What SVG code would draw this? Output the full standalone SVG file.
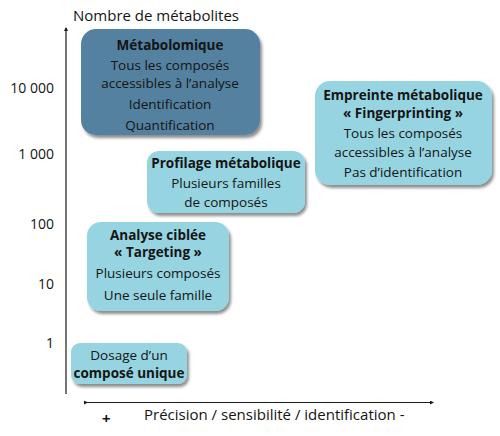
<svg xmlns="http://www.w3.org/2000/svg" width="500" height="436" viewBox="0 0 500 436">
<style>
text{font-family:"Open Sans","Noto Sans","Liberation Sans",sans-serif;fill:#141414;font-size:13.5px}
.c{text-anchor:middle}
.b{font-weight:700}
.r{text-anchor:end;font-size:14px}
.dark{fill:#52819f}
.light{fill:#95d4e0}
.ax{stroke:#1a1a1a;stroke-width:1.2;fill:none}
</style>
<defs>
<filter id="sh" x="-10%" y="-10%" width="130%" height="130%">
<feGaussianBlur in="SourceAlpha" stdDeviation="1.5"/>
<feOffset dx="2" dy="2.5" result="o"/>
<feComponentTransfer><feFuncA type="linear" slope="0.45"/></feComponentTransfer>
<feMerge><feMergeNode/><feMergeNode in="SourceGraphic"/></feMerge>
</filter>
<marker id="ah" markerWidth="4" markerHeight="4" refX="3" refY="2" orient="auto" markerUnits="userSpaceOnUse">
<path d="M0,0 L4,2 L0,4 z" fill="#1a1a1a"/>
</marker>
</defs>
<g id="axes">
<line class="ax" x1="66" y1="394" x2="66" y2="28" marker-end="url(#ah)"/>
<line class="ax" x1="87" y1="402.5" x2="433" y2="402.5" marker-start="url(#ah)" marker-end="url(#ah)"/>
<text x="73" y="21" style="font-size:15px">Nombre de métabolites</text>
<text class="r" x="54" y="93">10 000</text>
<text class="r" x="54" y="159">1 000</text>
<text class="r" x="54" y="229">100</text>
<text class="r" x="54" y="289">10</text>
<text class="r" x="54" y="348">1</text>
<text x="102" y="424" style="font-size:15px;font-weight:700">+</text>
<text x="144" y="420" style="font-size:15px">Précision / sensibilité / identification -</text>
</g>
<g id="metabolomique">
<rect class="dark" x="81" y="29" width="179" height="106" rx="15" filter="url(#sh)"/>
<text class="c b" x="170" y="50">Métabolomique</text>
<text class="c" x="170" y="70">Tous les composés</text>
<text class="c" x="170" y="88">accessibles à l’analyse</text>
<text class="c" x="170" y="109">Identification</text>
<text class="c" x="170" y="130">Quantification</text>
</g>
<g id="empreinte">
<rect class="light" x="315" y="81" width="177" height="104" rx="15" filter="url(#sh)"/>
<text class="c b" x="403" y="100">Empreinte métabolique</text>
<text class="c b" x="403" y="118">« Fingerprinting »</text>
<text class="c" x="403" y="138">Tous les composés</text>
<text class="c" x="403" y="157">accessibles à l’analyse</text>
<text class="c" x="403" y="177">Pas d’identification</text>
</g>
<g id="profilage">
<rect class="light" x="147" y="151" width="158" height="62" rx="12" filter="url(#sh)"/>
<text class="c b" x="226" y="168">Profilage métabolique</text>
<text class="c" x="226" y="188">Plusieurs familles</text>
<text class="c" x="226" y="207">de composés</text>
</g>
<g id="ciblee">
<rect class="light" x="87" y="222" width="142" height="89" rx="14" filter="url(#sh)"/>
<text class="c b" x="158" y="240">Analyse ciblée</text>
<text class="c b" x="158" y="257">« Targeting »</text>
<text class="c" x="158" y="278">Plusieurs composés</text>
<text class="c" x="158" y="300">Une seule famille</text>
</g>
<g id="dosage">
<rect class="light" x="71" y="343" width="116" height="41" rx="9" filter="url(#sh)"/>
<text class="c" x="129" y="360">Dosage d’un</text>
<text class="c b" x="129" y="378">composé unique</text>
</g>
</svg>
